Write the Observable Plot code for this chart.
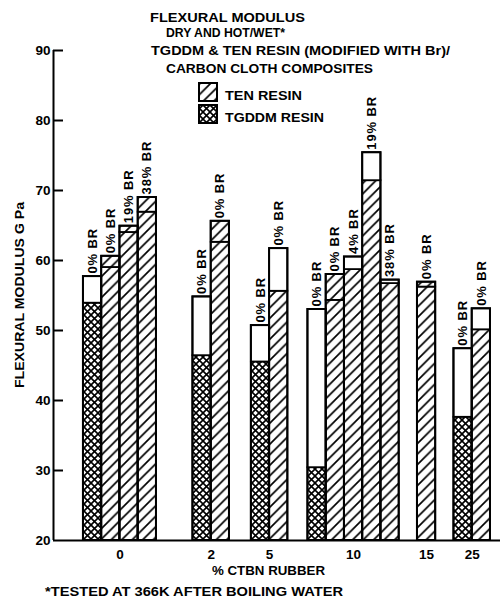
<!DOCTYPE html>
<html><head><meta charset="utf-8">
<script src="https://cdn.jsdelivr.net/npm/d3@7"></script>
<script src="https://cdn.jsdelivr.net/npm/@observablehq/plot@0.6"></script>
<style>
html,body{margin:0;padding:0;background:#fff;}
#chart{position:relative;width:501px;height:605px;}
</style></head>
<body>
<svg width="0" height="0" style="position:absolute">
  <defs>
    <pattern id="hatch" patternUnits="userSpaceOnUse" width="10.5" height="10.5">
      <rect width="10.5" height="10.5" fill="white"/>
      <path d="M-2,2 L2,-2 M0,10.5 L10.5,0 M8.5,12.5 L12.5,8.5" stroke="black" stroke-width="1.7"/>
    </pattern>
    <pattern id="xhatch" patternUnits="userSpaceOnUse" width="7" height="7">
      <rect width="7" height="7" fill="white"/>
      <path d="M-1,-1 L8,8 M8,-1 L-1,8" stroke="black" stroke-width="1.6"/>
    </pattern>
  </defs>
</svg>
<div id="chart"></div>
<script>
// ---- data ----
const groups = ["0", "2", "5", "10", "15", "25"];
const barGroup = ["0","0","0","0","2","2","5","5","10","10","10","10","10","15","25","25"];
const barResin = ["TGDDM","TEN","TEN","TEN","TGDDM","TEN","TGDDM","TEN","TGDDM","TEN","TEN","TEN","TEN","TEN","TGDDM","TEN"];
const barLabels = ["0% BR","0% BR","19% BR","38% BR","0% BR","0% BR","0% BR","0% BR","0% BR","0% BR","4% BR","19% BR","38% BR","0% BR","0% BR","0% BR"];
const dryValues    = [57.7, 60.6, 64.9, 69.0, 54.8, 65.6, 50.7, 61.7, 53.0, 58.0, 60.5, 75.4, 57.2, 56.9, 47.4, 53.1];
const hotWetValues = [53.9, 59.0, 64.0, 66.9, 46.4, 62.6, 45.5, 55.6, 30.4, 54.3, 58.7, 71.4, 56.7, 56.2, 37.6, 50.1];
const yTicks = [20, 30, 40, 50, 60, 70, 80, 90];
const titleLines = ["FLEXURAL MODULUS", "DRY AND HOT/WET*", "TGDDM & TEN RESIN (MODIFIED WITH Br)/", "CARBON CLOTH COMPOSITES"];
const legendLabels = ["TEN RESIN", "TGDDM RESIN"];

// ---- layout / style (not data) ----
const leadSlots = 1.64, trailSlots = 0.55;
const groupGaps = [2, 1.2, 1.1, 1.0, 1.0];
const hatchedTop = new Set([1, 2, 3, 5, 9, 13]);
const FONT = "'Liberation Sans', Arial, Helvetica, sans-serif";
const W = 501, ML = 53, MR = 1;

const bars = barGroup.map((g, i) => ({
  group: g, resin: barResin[i], label: barLabels[i],
  dry: dryValues[i], wet: hotWetValues[i], i
}));
let s = leadSlots;
const groupCenters = [];
groups.forEach((g, gi) => {
  if (gi > 0) s += groupGaps[gi - 1];
  const start = s;
  bars.filter(b => b.group === g).forEach(b => { b.x1 = s; b.x2 = s + 1; s += 1; });
  groupCenters.push({group: g, x: (start + s) / 2});
});
const xMax = s + trailSlots;
const tickLen = 10 * xMax / (W - ML - MR); // 10px inward ticks, in x units
const lowerFill = b => b.resin === "TEN" ? "url(#hatch)" : "url(#xhatch)";
const upperFill = b => hatchedTop.has(b.i) ? "url(#hatch)" : "white";

const plot = Plot.plot({
  width: W, height: 605,
  marginLeft: ML, marginRight: MR, marginTop: 50, marginBottom: 65,
  style: {fontFamily: FONT, background: "white", color: "black"},
  x: {domain: [0, xMax], axis: null},
  y: {domain: [20, 90], axis: null},
  marks: [
    Plot.rectY(bars, {x1: "x1", x2: "x2", y1: 20, y2: "wet", fill: lowerFill, stroke: "black", strokeWidth: 1.8}),
    Plot.rectY(bars, {x1: "x1", x2: "x2", y1: "wet", y2: "dry", fill: upperFill, stroke: "black", strokeWidth: 1.8}),
    Plot.rectY(bars, {x1: "x1", x2: "x2", y1: 20, y2: "dry", fill: "none", stroke: "black", strokeWidth: 2}),
    Plot.text(bars, {x: d => (d.x1 + d.x2) / 2, y: "dry", text: "label", rotate: -90, textAnchor: "start", dy: -3, fontSize: 13, fontWeight: "bold", fill: "black", className: "barlabel"}),
    Plot.ruleY([20], {stroke: "black", strokeWidth: 2}),
    Plot.ruleX([0], {y1: 20, y2: 90, stroke: "black", strokeWidth: 2}),
    Plot.ruleY(yTicks.slice(1), {x1: 0, x2: tickLen, stroke: "black", strokeWidth: 2}),
    Plot.axisY({ticks: yTicks, tickSize: 0, tickPadding: 3, tickFormat: d => d, fontSize: 13.5, fontWeight: "bold", label: null}),
    Plot.text(groupCenters, {x: "x", y: 20, text: "group", lineAnchor: "top", dy: 9, fontSize: 13.5, fontWeight: "bold", fill: "black"})
  ]
});

const svg = d3.select(plot);
svg.selectAll(".barlabel text").attr("letter-spacing", 0.9);
const txt = (x, y, t, size, len, extra = {}) => {
  const e = svg.append("text").attr("x", x).attr("y", y).text(t)
    .attr("text-anchor", "start")
    .attr("font-family", FONT).attr("font-weight", "bold").attr("font-size", size).attr("fill", "black");
  if (len) e.attr("textLength", len).attr("lengthAdjust", "spacingAndGlyphs");
  for (const k in extra) e.attr(k, extra[k]);
  return e;
};
// title
const titleX = [150, 166, 151, 166], titleY = [22, 36.7, 55, 73], titleLen = [155, 119, 299, 207];
titleLines.forEach((t, i) => txt(titleX[i], titleY[i], t, 13, titleLen[i]));
// legend
const legFill = ["url(#hatch)", "url(#xhatch)"], legLen = [77, 99];
legendLabels.forEach((t, i) => {
  svg.append("rect").attr("x", 199).attr("y", 83 + 22 * i).attr("width", 18).attr("height", 18)
    .attr("fill", legFill[i]).attr("stroke", "black").attr("stroke-width", 2);
  txt(225, 99.5 + 22.2 * i, t, 13, legLen[i]);
});
// axis titles + footnote
txt(-93, 0, "FLEXURAL MODULUS G Pa", 12.5, 186, {transform: "translate(24,295) rotate(-90)"});
txt(212, 575, "% CTBN RUBBER", 13, 113);
txt(45, 596, "*TESTED AT 366K AFTER BOILING WATER", 13, 298);

document.getElementById("chart").appendChild(plot);
</script>
</body></html>
